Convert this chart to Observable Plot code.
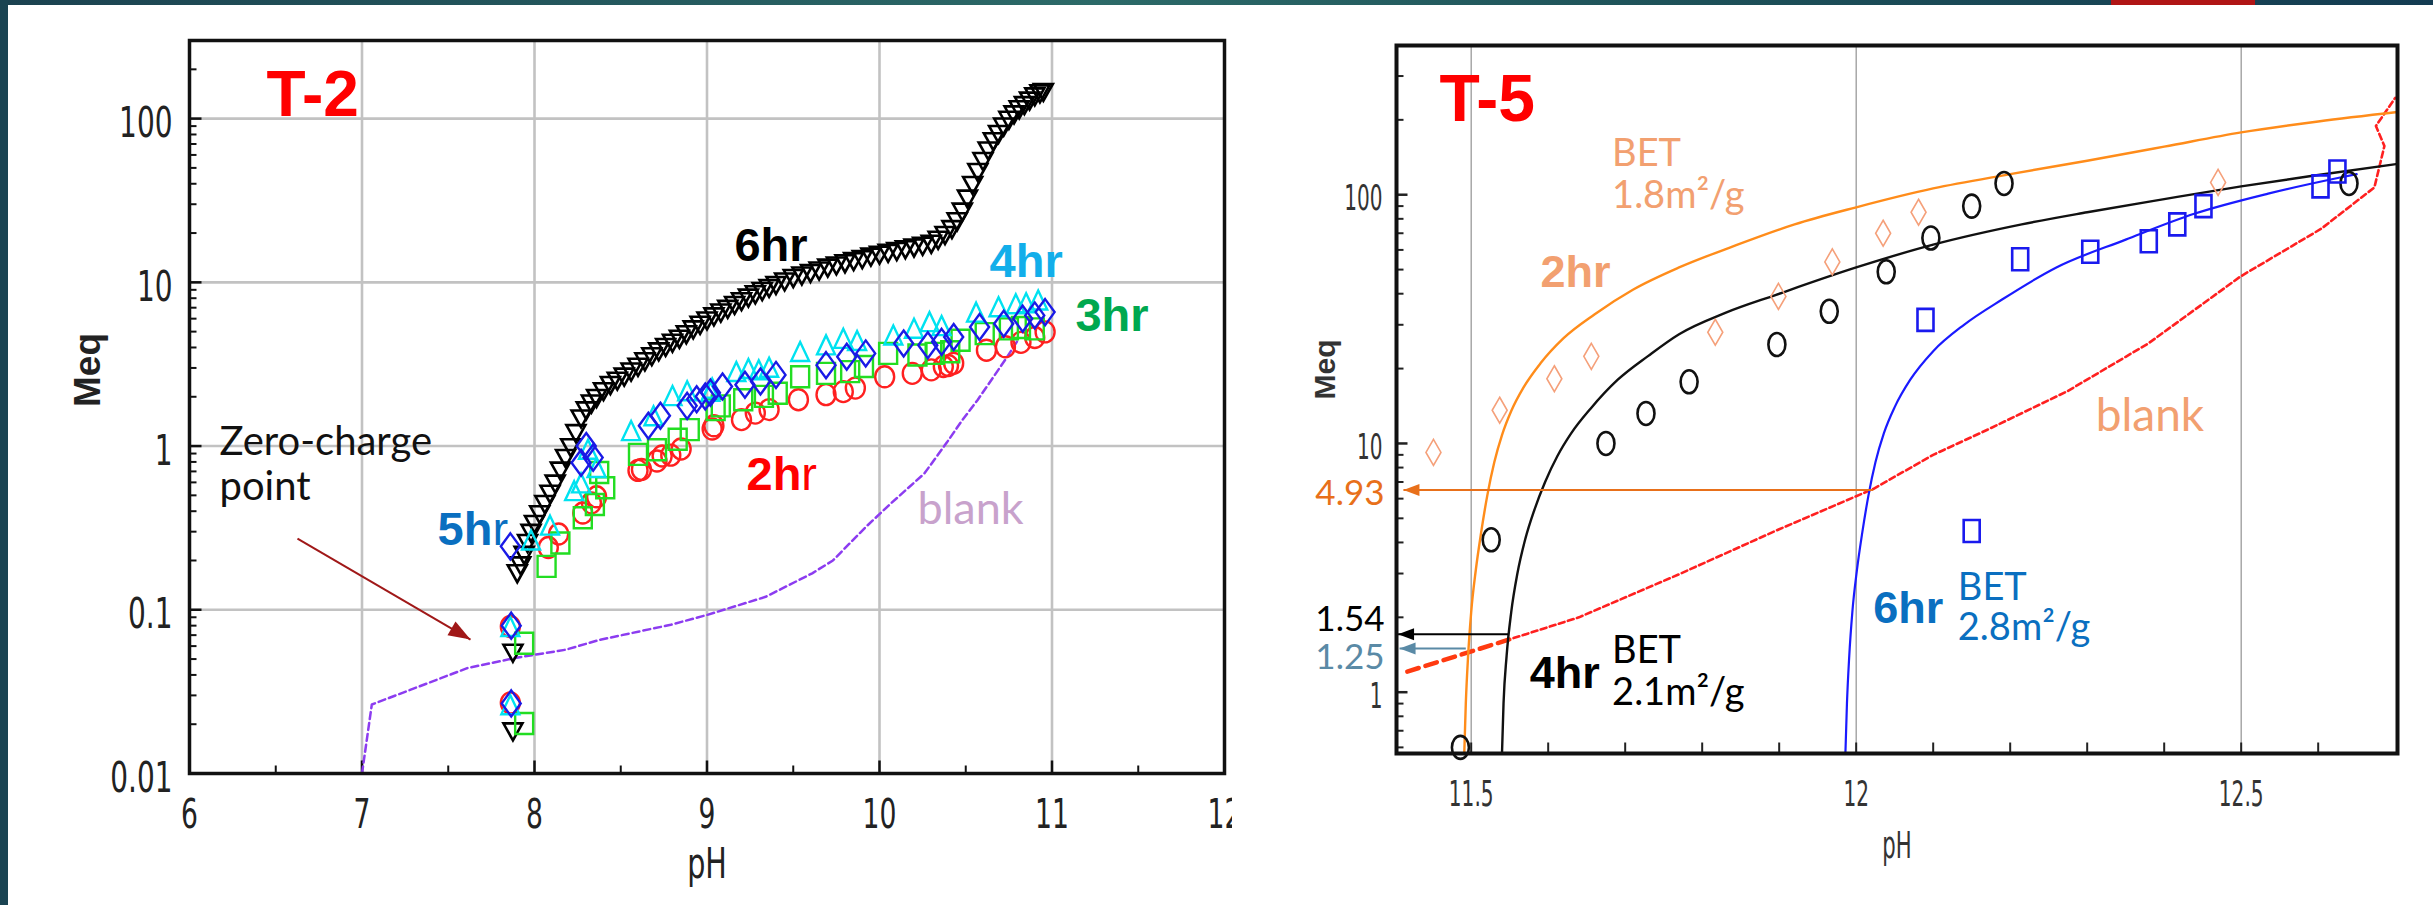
<!DOCTYPE html>
<html><head><meta charset="utf-8">
<script src="https://cdn.jsdelivr.net/npm/d3@7"></script>
<script src="https://cdn.jsdelivr.net/npm/@observablehq/plot@0.6"></script>
<style>
html,body{margin:0;padding:0;background:#fff;width:2433px;height:905px;overflow:hidden;position:relative}
#topbar{position:absolute;left:0;top:0;width:2433px;height:5px;background:linear-gradient(90deg,#1b4250 0%,#2c6a68 45%,#1d5058 70%,#143c52 100%);z-index:5}
#redbar{position:absolute;left:2111px;top:0;width:144px;height:5px;background:#b01515;z-index:6}
#leftbar{position:absolute;left:0;top:0;width:8px;height:905px;background:#1a4452;z-index:5}
#left{position:absolute;left:0;top:0;width:1232px;height:905px;overflow:hidden}
#right{position:absolute;left:1250px;top:0;width:1183px;height:905px;overflow:hidden}
</style></head><body>
<div id="topbar"></div><div id="redbar"></div><div id="leftbar"></div>
<div id="left"></div><div id="right"></div>
<script>
// ---------------- T-2 data (pH, Meq) ----------------
const t2Ticks = [6,7,8,9,10,11,12];
const t2MeqTicks = [0.01,0.1,1,10,100];
const t2MeqLabels = ["0.01","0.1","1","10","100"];

const t2_6hr = [[7.875,0.0556],[7.875,0.0184],
 [7.90,0.17],[7.92,0.19],[7.94,0.22],[7.96,0.26],[7.98,0.30],[8.00,0.34],[8.03,0.39],[8.06,0.45],[8.09,0.52],[8.12,0.60],
 [8.15,0.72],[8.18,0.86],[8.21,1.00],[8.24,1.22],[8.27,1.50],[8.30,1.68],[8.33,1.85],[8.36,2.00],[8.40,2.20],[8.44,2.40],
 [8.48,2.55],[8.52,2.70],[8.56,2.90],[8.60,3.10],[8.64,3.35],[8.68,3.60],[8.72,3.85],[8.76,4.10],[8.80,4.35],[8.84,4.60],
 [8.88,4.90],[8.92,5.25],[8.96,5.60],[9.00,5.95],[9.04,6.30],[9.08,6.65],[9.12,7.00],[9.16,7.40],[9.20,7.80],[9.24,8.20],
 [9.28,8.60],[9.32,9.00],[9.36,9.40],[9.40,9.80],[9.45,10.3],[9.50,10.8],[9.55,11.2],[9.60,11.6],[9.65,12.0],[9.70,12.5],
 [9.75,12.9],[9.80,13.3],[9.85,13.7],[9.90,14.1],[9.95,14.6],[10.00,15.0],[10.05,15.4],[10.10,15.8],[10.15,16.2],[10.20,16.6],
 [10.25,17.0],[10.30,17.5],[10.34,18.5],[10.38,19.8],[10.42,21.5],[10.45,24.0],[10.48,27.5],[10.51,33],[10.54,40],[10.57,48],
 [10.60,56],[10.63,65],[10.66,74],[10.69,82],[10.72,91],[10.75,100],[10.78,108],[10.81,116],[10.84,123],[10.87,131],
 [10.90,139],[10.93,145],[10.95,148]];
const t2_2hr = [[7.86,0.079],[7.86,0.027],
 [8.08,0.24],[8.14,0.29],[8.28,0.39],[8.33,0.45],[8.36,0.49],[8.60,0.71],[8.62,0.72],[8.71,0.81],[8.74,0.87],[8.79,0.88],[8.85,0.96],
 [9.03,1.27],[9.04,1.33],[9.20,1.45],[9.28,1.59],[9.36,1.67],[9.53,1.92],[9.69,2.06],[9.79,2.15],[9.86,2.26],[10.03,2.65],
 [10.19,2.78],[10.30,2.92],[10.37,3.06],[10.40,3.10],[10.43,3.20],[10.62,3.85],[10.73,4.04],[10.82,4.30],[10.90,4.60],[10.96,4.98]];
const t2_3hr = [[7.94,0.0625],[7.94,0.0202],
 [8.07,0.184],[8.15,0.256],[8.28,0.365],[8.35,0.44],[8.41,0.556],[8.375,0.69],[8.60,0.89],[8.71,0.95],[8.83,1.10],[8.90,1.26],
 [9.05,1.67],[9.08,1.76],[9.21,1.92],[9.33,2.01],[9.41,2.10],[9.54,2.65],[9.69,2.78],[9.83,2.85],[9.91,3.06],[10.05,3.68],
 [10.22,3.60],[10.32,3.68],[10.41,3.77],[10.47,4.43],[10.61,4.86],[10.75,5.20],[10.82,5.30],[10.90,5.20]];
const t2_4hr = [[7.86,0.077],[7.86,0.0256],
 [7.98,0.26],[8.09,0.32],[8.23,0.52],[8.27,0.58],[8.31,0.93],[8.36,0.72],[8.56,1.21],[8.69,1.49],[8.80,1.98],[8.885,2.12],
 [9.02,2.10],[9.03,2.20],[9.17,2.78],[9.24,2.90],[9.30,2.85],[9.36,2.95],[9.54,3.68],[9.69,4.04],[9.79,4.43],[9.87,4.30],
 [10.08,4.64],[10.20,5.10],[10.29,5.60],[10.36,5.30],[10.56,6.40],[10.69,6.90],[10.79,7.20],[10.85,7.30],[10.92,7.60]];
const t2_5hr = [[7.865,0.080],[7.865,0.0268],
 [7.86,0.244],[8.27,0.79],[8.30,1.00],[8.34,0.85],[8.66,1.33],[8.73,1.53],[8.885,1.76],[8.94,1.93],[8.99,2.01],[9.02,2.12],
 [9.09,2.31],[9.22,2.37],[9.31,2.48],[9.40,2.72],[9.69,3.12],[9.81,3.51],[9.92,3.68],[10.14,4.23],[10.28,4.13],[10.36,4.33],
 [10.43,4.64],[10.58,5.33],[10.72,5.59],[10.83,6.00],[10.90,6.28],[10.96,6.58]];
const t2_blank = [[7.0,0.01],[7.057,0.0264],[7.61,0.044],[7.885,0.0507],[8.18,0.057],[8.38,0.0656],[8.79,0.081],[9.0,0.093],
 [9.34,0.12],[9.61,0.167],[9.73,0.20],[9.92,0.32],[10.07,0.45],[10.26,0.68],[10.39,1.05],[10.48,1.44],[10.57,1.92],[10.74,3.5],[10.80,4.4]];
const t2_zeroArrow = [[6.626,0.272],[7.629,0.0658]];
const t2_labels = [
 {text:"6hr", x:9.159, y:16.6, color:"#000"},
 {text:"4hr", x:10.638, y:13.4, color:"#12aeea"},
 {text:"3hr", x:11.136, y:6.22, color:"#00a84f"},
 {text:"2hr", x:9.229, y:0.665, color:"#ff0000"},
 {text:"5hr", x:7.438, y:0.307, color:"#0a6fc0"}];
const t2_notes = [
 {text:"Zero-charge", x:6.174, y:1.06},
 {text:"point", x:6.174, y:0.56}];
const t2_blankLabel = [{text:"blank", x:10.22, y:0.409}];
const t2_title = [{text:"T-2", x:6.446, y:138}];

// ---------------- T-5 data (pH, Meq) ----------------
const t5Ticks = [11.5,12,12.5];
const t5TickLabels = ["11.5","12","12.5"];
const t5MinorX = [11.5,11.6,11.7,11.8,11.9,12.0,12.1,12.2,12.3,12.4,12.5,12.6];
const t5MeqTicks = [1,10,100];
const t5MeqLabels = ["1","10","100"];

const t5_2hrPts = [[11.451,9.2],[11.537,13.6],[11.608,18.2],[11.656,22.4],[11.817,28],[11.899,39],[11.969,53.7],[12.035,70],[12.081,85],[12.47,112]];
const t5_4hrPts = [[11.486,0.60],[11.526,4.1],[11.675,10],[11.727,13.2],[11.783,17.7],[11.897,25],[11.965,34],[12.039,49],[12.097,67],[12.15,90],[12.192,111],[12.640,111]];
const t5_6hrPts = [[12.09,31.4],[12.15,4.45],[12.213,55],[12.304,59],[12.380,65],[12.417,76],[12.451,90],[12.603,108],[12.625,124]];
const t5_2hrFit = [[11.491,0.567],[11.493,0.9],[11.496,1.4],[11.500,2.1],[11.506,3.1],[11.513,4.4],[11.521,6.2],[11.530,8.4],
 [11.540,10.8],[11.552,13.5],[11.568,16.8],[11.590,21],[11.62,26.5],[11.66,33],[11.71,41.5],[11.77,51],[11.84,62],[11.92,76],
 [12.0,89],[12.1,106],[12.2,121],[12.3,137],[12.4,156],[12.5,178],[12.6,197],[12.703,215]];
const t5_4hrFit = [[11.540,0.567],[11.542,0.9],[11.546,1.4],[11.552,2.1],[11.560,3.0],[11.570,4.1],[11.582,5.4],[11.596,7.0],
 [11.612,8.9],[11.630,11.0],[11.655,13.8],[11.69,18],[11.73,22.5],[11.77,27.5],[11.83,33.5],[11.896,39.6],[12.0,51],[12.1,63],
 [12.215,76],[12.3,85],[12.4,96],[12.5,108],[12.6,120],[12.703,133]];
const t5_6hrFit = [[11.986,0.567],[11.988,0.9],[11.991,1.4],[11.995,2.1],[12.001,3.1],[12.008,4.4],[12.016,6.2],[12.025,8.4],
 [12.036,11.0],[12.05,14],[12.07,18],[12.10,23.5],[12.14,30],[12.19,38],[12.26,51],[12.35,66],[12.44,84],[12.535,101],[12.627,117],[12.65,121]];
const t5_blankThick = [[11.417,1.21],[11.555,1.65]];
const t5_blankThin = [[11.555,1.65],[11.64,2.0],[11.77,2.98],[11.90,4.52],[12.022,6.56],[12.10,9.0],[12.169,11.3],[12.274,16.2],
 [12.379,25.2],[12.499,46.9],[12.604,73],[12.673,107],[12.686,157],[12.675,189],[12.70,245]];
const t5_arrows = [
 {from:[12.022,6.5], to:[11.412,6.5], color:"#e8701a", w:1.8},
 {from:[11.548,1.71], to:[11.405,1.71], color:"#000000", w:2},
 {from:[11.493,1.50], to:[11.407,1.50], color:"#5a8aa6", w:2}];
const t5_arrowLabels = [
 {text:"4.93", y:6.3, color:"#e8701a"},
 {text:"1.54", y:1.96, color:"#000000"},
 {text:"1.25", y:1.37, color:"#5a8aa6"}];
const t5_hrLabels = [
 {text:"2hr", x:11.590, y:48.6, color:"#f2a070"},
 {text:"4hr", x:11.576, y:1.19, color:"#000000"},
 {text:"6hr", x:12.022, y:2.17, color:"#0a6fc0"}];
const t5_betLabels = [
 {text:"BET", x:11.683, y:146, color:"#f2a070"},
 {text:"1.8m²/g", x:11.683, y:99, color:"#f2a070"},
 {text:"BET", x:11.683, y:1.46, color:"#000000"},
 {text:"2.1m²/g", x:11.683, y:0.99, color:"#000000"},
 {text:"BET", x:12.132, y:2.64, color:"#0a6fc0"},
 {text:"2.8m²/g", x:12.132, y:1.82, color:"#0a6fc0"}];
const t5_blankLabel = [{text:"blank", x:12.311, y:12.9}];
const t5_title = [{text:"T-5", x:11.459, y:240}];

// ---------------- helpers ----------------
const NARROW = "'Liberation Sans Narrow', 'DejaVu Sans Condensed', 'Arial Narrow', sans-serif";
const TITLEF = "'Liberation Sans Narrow', Impact, sans-serif";
const GOTH = "Lato, 'Open Sans', sans-serif";
const BOLDF = "'Liberation Sans', Arial, sans-serif";
const xy = {x: d => d[0], y: d => d[1]};

const hTick = len => ({draw(c){ c.moveTo(0,0); c.lineTo(len,0); }});
const vTick = len => ({draw(c){ c.moveTo(0,0); c.lineTo(0,-len); }});
const rectSym = (w,h) => ({draw(c){ c.moveTo(-w/2,-h/2); c.lineTo(w/2,-h/2); c.lineTo(w/2,h/2); c.lineTo(-w/2,h/2); c.closePath(); }});
const diamondSym = (w,h) => ({draw(c){ c.moveTo(0,-h/2); c.lineTo(w/2,0); c.lineTo(0,h/2); c.lineTo(-w/2,0); c.closePath(); }});
const triUp = (w,h) => ({draw(c){ c.moveTo(0,-h*0.6); c.lineTo(w/2,h*0.4); c.lineTo(-w/2,h*0.4); c.closePath(); }});
const triDown = (w,h) => ({draw(c){ c.moveTo(0,h*0.6); c.lineTo(w/2,-h*0.4); c.lineTo(-w/2,-h*0.4); c.closePath(); }});
const ellSym = (w,h) => ({draw(c){ const a=w/2,b=h/2,k=0.5523;
  c.moveTo(a,0); c.bezierCurveTo(a,b*k,a*k,b,0,b); c.bezierCurveTo(-a*k,b,-a,b*k,-a,0);
  c.bezierCurveTo(-a,-b*k,-a*k,-b,0,-b); c.bezierCurveTo(a*k,-b,a,-b*k,a,0); c.closePath(); }});
const headSym = (ang,L,W) => ({draw(c){ const co=Math.cos(ang), si=Math.sin(ang); const bx=-L*co, by=-L*si;
  c.moveTo(0,0); c.lineTo(bx - W*si, by + W*co); c.lineTo(bx + W*si, by - W*co); c.closePath(); }});

function minorLog(lo, hi){ const out=[]; for(let e=-3;e<=3;e++) for(let k=1;k<=9;k++){ const v=k*Math.pow(10,e); if(v>=lo && v<=hi) out.push(v);} return out; }
const isDecade = v => Math.abs(Math.log10(v) - Math.round(Math.log10(v))) < 1e-9;
function squish(svg, f){
  svg.querySelectorAll("g[font-family]").forEach(g => {
    if (g.getAttribute("font-family") !== NARROW) return;
    g.querySelectorAll("text").forEach(t => {
      const L = t.getComputedTextLength();
      if (L > 0) { t.setAttribute("textLength", (L*f).toFixed(1)); t.setAttribute("lengthAdjust","spacingAndGlyphs"); }
    });
  });
}

// ---------------- T-2 plot ----------------
const L_W=1232, L_H=905, L_ML=189, L_MR=8, L_MT=40, L_MB=132;
const t2X=[6,12], t2Y=[0.01,300];
const xL = d3.scaleLinear(t2X,[L_ML,L_W-L_MR]), yL = d3.scaleLog(t2Y,[L_H-L_MB,L_MT]);
const zA = t2_zeroArrow;
const zAng = Math.atan2(yL(zA[1][1])-yL(zA[0][1]), xL(zA[1][0])-xL(zA[0][0]));
const t2MinorY = minorLog(0.01,300);
const t2HalfX = [6.5,7.5,8.5,9.5,10.5,11.5];

const left = Plot.plot({
  width:L_W, height:L_H, marginLeft:L_ML, marginRight:L_MR, marginTop:L_MT, marginBottom:L_MB,
  x:{domain:t2X, axis:null}, y:{type:"log", domain:t2Y, axis:null},
  style:{background:"transparent"},
  marks:[
    Plot.ruleX(t2Ticks.filter(d=>d>6 && d<12), {x:d=>d, stroke:"#c2c2c2", strokeWidth:2.6}),
    Plot.ruleY(t2MeqTicks.filter(d=>d>0.01), {y:d=>d, stroke:"#c2c2c2", strokeWidth:2.6}),
    Plot.dot(t2MinorY.filter(v=>!isDecade(v)), {y:d=>d, frameAnchor:"left", symbol:hTick(7), r:4, stroke:"#111", strokeWidth:2}),
    Plot.dot(t2MinorY.filter(isDecade), {y:d=>d, frameAnchor:"left", symbol:hTick(12), r:4, stroke:"#111", strokeWidth:2.5}),
    Plot.dot(t2Ticks, {x:d=>d, frameAnchor:"bottom", symbol:vTick(13), r:4, stroke:"#111", strokeWidth:2.5}),
    Plot.dot(t2HalfX, {x:d=>d, frameAnchor:"bottom", symbol:vTick(8), r:4, stroke:"#111", strokeWidth:2}),
    Plot.line(t2_blank, {...xy, stroke:"#8c3cf0", strokeWidth:2.5, strokeDasharray:"7,4"}),
    Plot.link([zA], {x1:d=>d[0][0], y1:d=>d[0][1], x2:d=>d[1][0], y2:d=>d[1][1], stroke:"#a01818", strokeWidth:2}),
    Plot.dot([zA[1]], {...xy, symbol:headSym(zAng,22,8), r:5, fill:"#a01818", stroke:"none"}),
    Plot.dot(t2_6hr, {...xy, symbol:triDown(19,17), r:5, fill:"none", stroke:"#000", strokeWidth:2.6}),
    Plot.dot(t2_2hr, {...xy, symbol:ellSym(19,21), r:5, fill:"none", stroke:"#ff2020", strokeWidth:2.4}),
    Plot.dot(t2_3hr, {...xy, symbol:rectSym(18,21), r:5, fill:"none", stroke:"#22dd22", strokeWidth:2.4}),
    Plot.dot(t2_4hr, {...xy, symbol:triUp(18,19), r:5, fill:"none", stroke:"#00e2f0", strokeWidth:2.4}),
    Plot.dot(t2_5hr, {...xy, symbol:diamondSym(19,26), r:5, fill:"none", stroke:"#1a1ae6", strokeWidth:2.4}),
    Plot.text(t2MeqTicks, {y:d=>d, text:(d,i)=>t2MeqLabels[i], frameAnchor:"left", textAnchor:"end", dx:-17, dy:5, fontSize:42, fontFamily:NARROW, fill:"#222"}),
    Plot.text(t2Ticks, {x:d=>d, text:d=>String(d), frameAnchor:"bottom", dy:54, fontSize:40, fontFamily:NARROW, fill:"#222"}),
    Plot.text(["pH"], {text:d=>d, frameAnchor:"bottom", dy:104, fontSize:43, fontFamily:NARROW, fill:"#222"}),
    Plot.text(["Meq"], {text:d=>d, frameAnchor:"left", dx:-101, rotate:-90, fontSize:37, fontWeight:"bold", fontFamily:BOLDF, fill:"#222"}),
    Plot.text(t2_title, {x:"x", y:"y", text:"text", textAnchor:"start", fontSize:64, fontWeight:"bold", fontFamily:TITLEF, fill:"#ff0000"}),
    Plot.text(t2_labels, {x:"x", y:"y", text:"text", fill:"color", textAnchor:"start", fontSize:47, fontWeight:"bold", fontFamily:BOLDF}),
    Plot.text(t2_notes, {x:"x", y:"y", text:"text", textAnchor:"start", fontSize:40, fontFamily:GOTH, fill:"#111"}),
    Plot.text(t2_blankLabel, {x:"x", y:"y", text:"text", textAnchor:"start", fontSize:45, fontFamily:GOTH, fill:"#c8a2cc"}),
    Plot.frame({stroke:"#111", strokeWidth:3.5})
  ]
});
document.getElementById("left").appendChild(left);

// ---------------- T-5 plot ----------------
const R_W=1183, R_H=905, R_ML=146, R_MR=36, R_MT=45, R_MB=152;
const t5X=[11.403,12.703], t5Y=[0.567,398];
const t5MinorY = minorLog(0.567,398);

const right = Plot.plot({
  width:R_W, height:R_H, marginLeft:R_ML, marginRight:R_MR, marginTop:R_MT, marginBottom:R_MB,
  x:{domain:t5X, axis:null}, y:{type:"log", domain:t5Y, axis:null},
  style:{background:"transparent"},
  marks:[
    Plot.ruleX(t5Ticks, {x:d=>d, stroke:"#9a9a9a", strokeWidth:1.3}),
    Plot.dot(t5MinorY.filter(v=>!isDecade(v)), {y:d=>d, frameAnchor:"left", symbol:hTick(7), r:4, stroke:"#222", strokeWidth:2}),
    Plot.dot(t5MinorY.filter(isDecade), {y:d=>d, frameAnchor:"left", symbol:hTick(11), r:4, stroke:"#222", strokeWidth:2.5}),
    Plot.dot(t5MinorX, {x:d=>d, frameAnchor:"bottom", symbol:vTick(11), r:4, stroke:"#222", strokeWidth:2}),
    Plot.line(t5_blankThick, {...xy, stroke:"#ff3a10", strokeWidth:4.5, strokeDasharray:"12,7"}),
    Plot.line(t5_blankThin, {...xy, stroke:"#ff2020", strokeWidth:2.6, strokeDasharray:"6,3.5"}),
    Plot.line(t5_2hrFit, {...xy, stroke:"#ff8c1a", strokeWidth:2.4, curve:"monotone-x"}),
    Plot.line(t5_4hrFit, {...xy, stroke:"#111", strokeWidth:2.4, curve:"monotone-x"}),
    Plot.line(t5_6hrFit, {...xy, stroke:"#1a1aff", strokeWidth:2.2, curve:"monotone-x"}),
    Plot.link(t5_arrows, {x1:d=>d.from[0], y1:d=>d.from[1], x2:d=>d.to[0], y2:d=>d.to[1], stroke:d=>d.color, strokeWidth:d=>d.w}),
    Plot.dot(t5_arrows, {x:d=>d.to[0], y:d=>d.to[1], symbol:headSym(Math.PI,16,6), r:4, fill:d=>d.color, stroke:"none"}),
    Plot.dot(t5_2hrPts, {...xy, symbol:diamondSym(15,26), r:5, fill:"none", stroke:"#f5a07a", strokeWidth:1.6}),
    Plot.dot(t5_4hrPts, {...xy, symbol:ellSym(17,23), r:5, fill:"none", stroke:"#111", strokeWidth:2.6}),
    Plot.dot(t5_6hrPts, {...xy, symbol:rectSym(16,22), r:5, fill:"none", stroke:"#1a1aee", strokeWidth:2.6}),
    Plot.text(t5MeqTicks, {y:d=>d, text:(d,i)=>t5MeqLabels[i], frameAnchor:"left", textAnchor:"end", dx:-14, dy:4, fontSize:36, fontFamily:NARROW, fill:"#333"}),
    Plot.text(t5Ticks, {x:d=>d, text:(d,i)=>t5TickLabels[i], frameAnchor:"bottom", dy:52, fontSize:36, fontFamily:NARROW, fill:"#333"}),
    Plot.text(["pH"], {text:d=>d, frameAnchor:"bottom", dy:104, fontSize:38, fontFamily:NARROW, fill:"#333"}),
    Plot.text(["Meq"], {text:d=>d, frameAnchor:"left", dx:-71, rotate:-90, fontSize:30, fontWeight:"bold", fontFamily:BOLDF, fill:"#333"}),
    Plot.text(t5_arrowLabels, {y:"y", text:"text", fill:"color", frameAnchor:"left", textAnchor:"end", dx:-12, fontSize:35, fontFamily:GOTH}),
    Plot.text(t5_title, {x:"x", y:"y", text:"text", textAnchor:"start", fontSize:66, fontWeight:"bold", fontFamily:TITLEF, fill:"#ff0000"}),
    Plot.text(t5_hrLabels, {x:"x", y:"y", text:"text", fill:"color", textAnchor:"start", fontSize:45, fontWeight:"bold", fontFamily:BOLDF}),
    Plot.text(t5_betLabels, {x:"x", y:"y", text:"text", fill:"color", textAnchor:"start", fontSize:38, fontFamily:GOTH}),
    Plot.text(t5_blankLabel, {x:"x", y:"y", text:"text", textAnchor:"start", fontSize:46, fontFamily:GOTH, fill:"#f2a070"}),
    Plot.frame({stroke:"#111", strokeWidth:4})
  ]
});
document.getElementById("right").appendChild(right);

// post-processing: condensed tick fonts, mixed-weight hr labels
squish(left, 0.74);
squish(right, 0.62);
left.querySelectorAll("text").forEach(t => {
  const s = t.textContent;
  if (s === "2hr" || s === "5hr") {
    t.textContent = "";
    const a = document.createElementNS("http://www.w3.org/2000/svg","tspan"); a.textContent = s.slice(0,2);
    const b = document.createElementNS("http://www.w3.org/2000/svg","tspan"); b.textContent = "r"; b.setAttribute("font-weight","normal");
    t.appendChild(a); t.appendChild(b);
  }
});
</script>
</body></html>
